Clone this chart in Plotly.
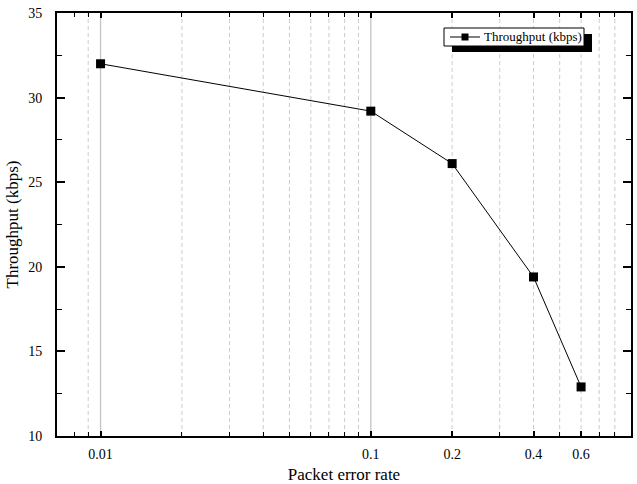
import plotly.graph_objects as go
import math

# Data
per = [0.01, 0.1, 0.2, 0.4, 0.6]
throughput = [32.0, 29.2, 26.1, 19.4, 12.9]

x_label_vals = [0.01, 0.1, 0.2, 0.4, 0.6]
x_label_text = ["0.01", "0.1", "0.2", "0.4", "0.6"]
x_minor_vals = [0.008, 0.009, 0.02, 0.03, 0.04, 0.05, 0.06, 0.07, 0.08, 0.09,
                0.3, 0.5, 0.7, 0.8]
grid_dashed = [0.009, 0.02, 0.03, 0.04, 0.05, 0.06, 0.07, 0.08, 0.09,
               0.2, 0.3, 0.4, 0.5, 0.6, 0.7, 0.8]
grid_solid = [0.01, 0.1]
y_ticks = [10, 15, 20, 25, 30, 35]
series_name = "Throughput (kbps)"

FONT = "Liberation Serif"

# plot-area geometry (pixels) for layout decorations
L, R, T, B = 57, 631, 13, 436
W, H = R - L, B - T


def px(xp):
    return (xp - L) / W


def py(yp):
    return (B - yp) / H


fig = go.Figure()
fig.add_trace(go.Scatter(
    x=per, y=throughput, mode="lines+markers", name=series_name,
    line=dict(color="black", width=1),
    marker=dict(symbol="square", size=9, color="black"),
    showlegend=False,
))

for d in grid_dashed:
    fig.add_shape(type="line", xref="x", yref="paper", x0=d, x1=d, y0=0, y1=1,
                  line=dict(color="#cccccc", width=1, dash="4px,3px"), layer="below")
for d in grid_solid:
    fig.add_shape(type="line", xref="x", yref="paper", x0=d, x1=d, y0=0, y1=1,
                  line=dict(color="#c4c4c4", width=1.3), layer="below")

# manual legend: shadow, box, sample, text
fig.add_shape(type="rect", xref="paper", yref="paper",
              x0=px(452), x1=px(592), y0=py(52), y1=py(34),
              fillcolor="black", line=dict(width=0), layer="above")
fig.add_shape(type="rect", xref="paper", yref="paper",
              x0=px(444), x1=px(584), y0=py(46), y1=py(28),
              fillcolor="white", line=dict(color="black", width=1), layer="above")
fig.add_shape(type="line", xref="paper", yref="paper",
              x0=px(450), x1=px(480), y0=py(37), y1=py(37),
              line=dict(color="black", width=1), layer="above")
fig.add_shape(type="rect", xref="paper", yref="paper",
              x0=px(461.5), x1=px(468.5), y0=py(40.5), y1=py(33.5),
              fillcolor="black", line=dict(width=0), layer="above")
fig.add_annotation(xref="paper", yref="paper", x=px(482), y=py(37),
                   xanchor="left", yanchor="middle", showarrow=False,
                   text=series_name, font=dict(family=FONT, size=13, color="black"))

xr = [math.log10(0.0069), math.log10(0.918)]
fig.update_layout(
    template="none",
    width=637, height=484,
    margin=dict(l=L, r=637 - R, t=T, b=484 - B, autoexpand=False),
    paper_bgcolor="white", plot_bgcolor="white",
    font=dict(family=FONT, color="black", size=14),
    showlegend=False,
    xaxis=dict(
        type="log", range=xr, automargin=False,
        tickmode="array", tickvals=x_label_vals, ticktext=x_label_text,
        ticks="inside", ticklen=5, tickwidth=1.5, tickcolor="black",
        showline=True, linecolor="black", linewidth=2, mirror="allticks",
        showgrid=False, zeroline=False,
        minor=dict(tickmode="array", tickvals=x_minor_vals, ticks="inside",
                   ticklen=4, tickcolor="black", tickwidth=1, showgrid=False),
        title=dict(text="Packet error rate",
                   font=dict(family=FONT, size=17, color="black"), standoff=12),
        tickfont=dict(family=FONT, size=14, color="black"),
        ticklabelstandoff=4,
    ),
    yaxis=dict(
        range=[10, 35], automargin=False,
        tickmode="array", tickvals=y_ticks,
        ticks="inside", ticklen=8, tickwidth=1.5, tickcolor="black",
        showline=True, linecolor="black", linewidth=2, mirror="allticks",
        showgrid=False, zeroline=False,
        minor=dict(dtick=2.5, tick0=10, ticks="inside", ticklen=5,
                   tickcolor="black", tickwidth=1, showgrid=False),
        title=dict(text="Throughput (kbps)",
                   font=dict(family=FONT, size=17, color="black"), standoff=5),
        tickfont=dict(family=FONT, size=14, color="black"),
        ticklabelstandoff=10,
    ),
)

fig.write_html("out.html")
